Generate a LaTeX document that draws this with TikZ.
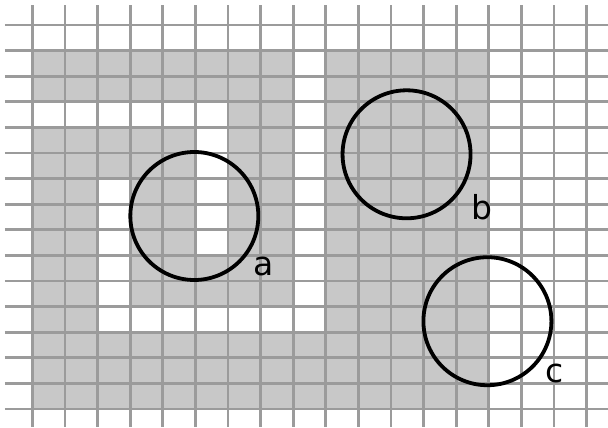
\documentclass[tikz,border=0pt]{standalone}
\usepackage{fontspec}
\setmainfont{DejaVu Sans}
\definecolor{cellgray}{RGB}{200,200,200}
\definecolor{linegray}{RGB}{155,155,155}
\begin{document}
\begin{tikzpicture}[x=16.3pt, y=-12.8pt, gridline/.style={draw=linegray, line width=1.4pt}, disc/.style={draw, circle, line width=1.9pt, minimum size=64pt, inner sep=0pt}, lbl/.style={inner sep=0pt, font=\fontsize{16.5}{20}\selectfont}]
  \useasboundingbox (-0.991,-0.977) rectangle (17.659,15.703);
  % occupied cells
  \fill[cellgray] (0,1) rectangle (8,15);
  \fill[white] (0,3) rectangle (6,4);
  \fill[white] (5,4) rectangle (6,9);
  \fill[white] (2,6) rectangle (3,11);
  \fill[white] (2,11) rectangle (8,12);
  \fill[cellgray] (8,12) rectangle (9,15);
  \fill[cellgray] (9,1) rectangle (14,15);
  % grid
  \foreach \i in {0,...,17}
    \draw[gridline] (\i,-0.78) -- (\i,15.703);
  \foreach \j in {0,...,15}
    \draw[gridline] (-0.84,\j) -- (17.659,\j);
  % robots
  \node[disc] (a) at (4.97,7.46) {};
  \node[disc] (b) at (11.48,5.05) {};
  \node[disc] (c) at (13.96,11.57) {};
  \node[lbl] (la) at (7.08,9.45) {a};
  \node[lbl] (lb) at (13.79,7.11) {b};
  \node[lbl] (lc) at (16.03,13.63) {c};
\end{tikzpicture}
\end{document}
